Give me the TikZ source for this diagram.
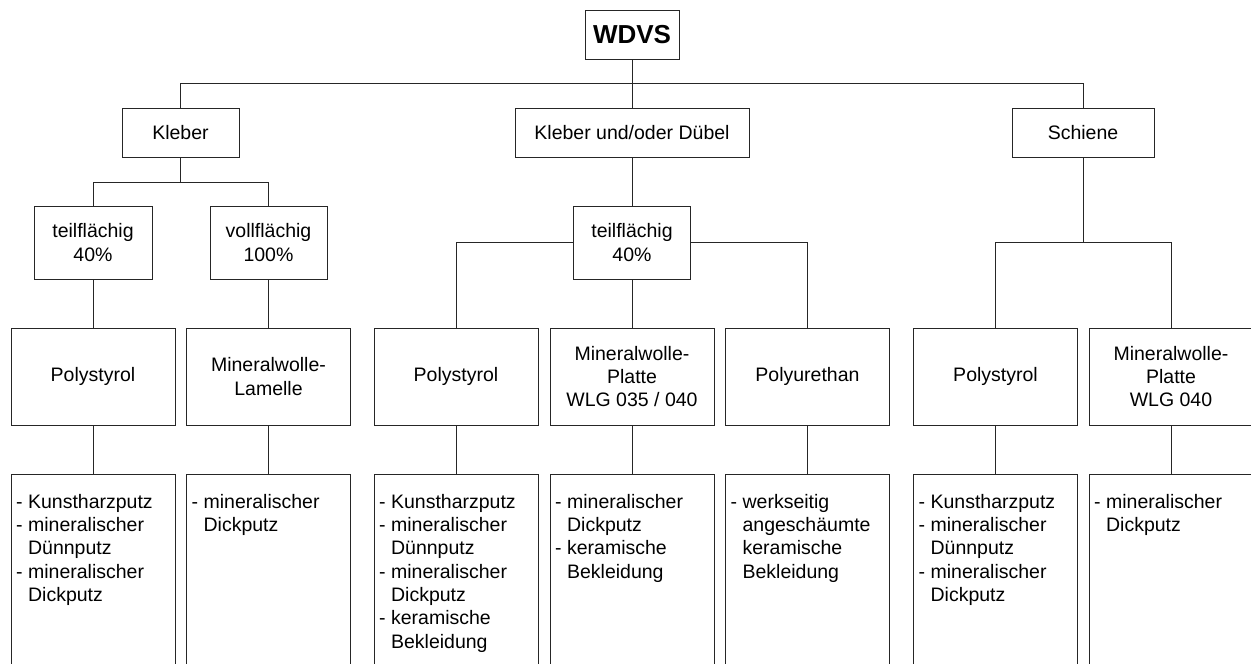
\documentclass[tikz,border=0pt]{standalone}
\usepackage{fontspec}
\setmainfont{Liberation Sans}
\begin{document}
\begin{tikzpicture}[x=1pt,y=-1pt,
  every node/.style={font=\fontsize{19.5}{23.3}\selectfont},
  box/.style={draw=black!85, line width=1pt, inner sep=0pt, align=center},
  lvlone/.style={box, minimum height=49pt},
  lvltwo/.style={box, minimum width=117pt, minimum height=73pt},
  lvlthree/.style={box, minimum width=164pt, minimum height=97pt},
  lvlfour/.style={box, minimum width=164pt, minimum height=260pt, anchor=north},
  listtext/.style={inner sep=0pt, align=left, anchor=north west},
  conn/.style={draw=black!85, line width=1pt}]
\useasboundingbox (0,0) rectangle (1251,664);
\clip (0,0) rectangle (1251,664);
\fill[white] (0,0) rectangle (1251,664);

% top
\node[box, minimum width=94pt, minimum height=49pt, font=\bfseries\fontsize{26}{30}\selectfont] (wdvs) at (632,34.5) {WDVS};

% level 1
\node[lvlone, minimum width=117pt] (kleber) at (180.5,132.5) {Kleber};
\node[lvlone, minimum width=234pt] (kud) at (632,132.5) {Kleber und/oder Dübel};
\node[lvlone, minimum width=142pt] (schiene) at (1083,132.5) {Schiene};

% level 2
\node[lvltwo, minimum width=118pt] (teilA) at (93,242.5) {teilflächig\\40\%};
\node[lvltwo] (voll) at (268.5,242.5) {vollflächig\\100\%};
\node[lvltwo] (teilB) at (632,242.5) {teilflächig\\40\%};

% level 3
\node[lvlthree] (pA) at (93,376.5) {Polystyrol};
\node[lvlthree] (mA) at (268.5,376.5) {Mineralwolle-\\Lamelle};
\node[lvlthree] (pB) at (456,376.5) {Polystyrol};
\node[lvlthree] (mB) at (632,376.5) {Mineralwolle-\\Platte\\WLG 035 / 040};
\node[lvlthree] (uB) at (807.5,376.5) {Polyurethan};
\node[lvlthree] (pC) at (995.5,376.5) {Polystyrol};
\node[lvlthree] (mC) at (1171,376.5) {Mineralwolle-\\Platte\\WLG 040};

% level 4
\node[lvlfour] (fA) at (93,474) {};
\node[lvlfour] (fB) at (268.5,474) {};
\node[lvlfour] (fC) at (456,474) {};
\node[lvlfour] (fD) at (632,474) {};
\node[lvlfour] (fE) at (807.5,474) {};
\node[lvlfour] (fF) at (995.5,474) {};
\node[lvlfour] (fG) at (1171,474) {};

\node[listtext] (tA) at ([xshift=5.5pt,yshift=-20pt]fA.north west) {- Kunstharzputz\\- mineralischer\\\hphantom{- }Dünnputz\\- mineralischer\\\hphantom{- }Dickputz};
\node[listtext] (tB) at ([xshift=5.5pt,yshift=-20pt]fB.north west) {- mineralischer\\\hphantom{- }Dickputz};
\node[listtext] (tC) at ([xshift=5.5pt,yshift=-20pt]fC.north west) {- Kunstharzputz\\- mineralischer\\\hphantom{- }Dünnputz\\- mineralischer\\\hphantom{- }Dickputz\\- keramische\\\hphantom{- }Bekleidung};
\node[listtext] (tD) at ([xshift=5.5pt,yshift=-20pt]fD.north west) {- mineralischer\\\hphantom{- }Dickputz\\- keramische\\\hphantom{- }Bekleidung};
\node[listtext] (tE) at ([xshift=5.5pt,yshift=-20pt]fE.north west) {- werkseitig\\\hphantom{- }angeschäumte\\\hphantom{- }keramische\\\hphantom{- }Bekleidung};
\node[listtext] (tF) at ([xshift=5.5pt,yshift=-20pt]fF.north west) {- Kunstharzputz\\- mineralischer\\\hphantom{- }Dünnputz\\- mineralischer\\\hphantom{- }Dickputz};
\node[listtext] (tG) at ([xshift=5.5pt,yshift=-20pt]fG.north west) {- mineralischer\\\hphantom{- }Dickputz};

% connectors
\coordinate (busA) at (632,83);
\coordinate (busB) at (180.5,182);
\coordinate (busC) at (632,242);
\draw[conn] (wdvs.south) -- (kud.north);
\draw[conn] (kleber.north) -- (kleber.north |- busA) -- (schiene.north |- busA) -- (schiene.north);

\draw[conn] (kleber.south) -- (busB);
\draw[conn] (teilA.north) -- (teilA.north |- busB) -- (voll.north |- busB) -- (voll.north);
\draw[conn] (teilA.south) -- (pA.north);
\draw[conn] (voll.south) -- (mA.north);

\draw[conn] (kud.south) -- (teilB.north);
\draw[conn] (teilB.west |- busC) -- (pB.north |- busC) -- (pB.north);
\draw[conn] (teilB.east |- busC) -- (uB.north |- busC) -- (uB.north);
\draw[conn] (teilB.south) -- (mB.north);

\draw[conn] (schiene.south) -- (schiene.south |- busC);
\draw[conn] (pC.north) -- (pC.north |- busC) -- (mC.north |- busC) -- (mC.north);

\draw[conn] (pA.south) -- (fA.north);
\draw[conn] (mA.south) -- (fB.north);
\draw[conn] (pB.south) -- (fC.north);
\draw[conn] (mB.south) -- (fD.north);
\draw[conn] (uB.south) -- (fE.north);
\draw[conn] (pC.south) -- (fF.north);
\draw[conn] (mC.south) -- (fG.north);
\end{tikzpicture}
\end{document}
